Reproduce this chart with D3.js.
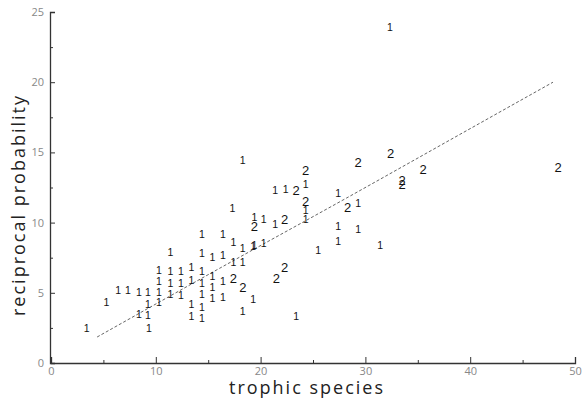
<!DOCTYPE html>
<html>
<head>
<meta charset="utf-8">
<script src="https://cdn.jsdelivr.net/npm/d3@7"></script>
<style>
  body { margin: 0; background: #fff; }
  svg { display: block; }
</style>
</head>
<body>
<div id="chart"></div>
<script>
// values: [trophic species, reciprocal probability]
const pointsOne = [
    [32.35, 23.9], [18.3, 14.4], [17.3, 11.0], [21.4, 12.3], [22.4, 12.4],
    [24.3, 12.7], [24.3, 10.9], [27.4, 12.1], [29.3, 11.4], [19.4, 10.4], [20.3, 10.2],
    [21.4, 9.9], [24.3, 10.2], [27.4, 9.7], [29.3, 9.5], [27.4, 8.7], [31.4, 8.4],
    [25.5, 8.0], [19.4, 8.4], [20.3, 8.5], [14.4, 9.2], [16.4, 9.2],
    [17.4, 8.6], [18.3, 8.2], [19.3, 8.3], [11.4, 7.9], [14.4, 7.8],
    [15.4, 7.5], [16.4, 7.7], [17.4, 7.2], [18.3, 7.2],
    [10.3, 6.6], [10.3, 5.8], [10.3, 5.0], [10.3, 4.3],
    [11.4, 6.5], [11.4, 5.7], [11.4, 4.9],
    [12.4, 6.5], [12.4, 5.7], [12.4, 4.8],
    [13.4, 6.8], [13.4, 5.9], [13.4, 4.2], [13.4, 3.3],
    [14.4, 6.5], [14.4, 5.7], [14.4, 4.9], [14.4, 4.0],
    [15.4, 6.2], [15.4, 5.4], [15.4, 4.6],
    [16.4, 5.8], [16.4, 4.7],
    [19.3, 4.5], [18.3, 3.7], [5.3, 4.3], [6.4, 5.2], [7.35, 5.2], [8.4, 5.0],
    [9.26, 5.0], [9.26, 4.2], [9.26, 3.4],
    [8.4, 3.5], [3.4, 2.5], [9.35, 2.5], [14.4, 3.2], [23.4, 3.3]
];

const pointsTwo = [
    [24.3, 13.7], [29.3, 14.3], [32.4, 14.9], [35.5, 13.8], [33.5, 13.0], [33.5, 12.7],
    [48.4, 13.9], [23.4, 12.3], [24.3, 11.5], [28.3, 11.1], [19.4, 9.7], [22.3, 10.2],
    [17.4, 6.0], [18.3, 5.4], [22.3, 6.8], [21.5, 6.0]
];

// fitted curve
const fitLine = [[4.4, 1.85], [16.1, 6.75], [28.2, 11.75], [39.3, 16.4], [47.9, 20.0]];

const xTicks = [0, 10, 20, 30, 40, 50];
const yTicks = [0, 5, 10, 15, 20, 25];

const width = 583, height = 403;

const svg = d3.select("#chart").append("svg")
    .attr("width", width)
    .attr("height", height);

const x = d3.scaleLinear().domain([0, 50]).range([51, 575]);
const y = d3.scaleLinear().domain([0, 25]).range([363, 12]);

const axisColor = "#333";
const labelFont = "'Open Sans', 'DejaVu Sans', sans-serif";
const markFont = "'Liberation Sans', Arial, sans-serif";

// x axis, ticks point inward
const xAxis = svg.append("g")
    .attr("transform", `translate(0, ${y(0)})`)
    .call(d3.axisBottom(x).tickValues(xTicks).tickSize(-6).tickPadding(4).tickFormat(d3.format("d")));
xAxis.append("g")
    .call(d3.axisBottom(x).tickValues([5, 15, 25, 35, 45]).tickSize(-3).tickFormat(""))
    .select(".domain").remove();

// y axis
const yAxis = svg.append("g")
    .attr("transform", `translate(${x(0) - 1}, 0)`)
    .call(d3.axisLeft(y).tickValues(yTicks).tickSize(-5).tickPadding(6).tickFormat(d3.format("d")));
yAxis.append("g")
    .call(d3.axisLeft(y).tickValues([2.5, 7.5, 12.5, 17.5, 22.5]).tickSize(-3).tickFormat(""))
    .select(".domain").remove();

svg.selectAll(".domain").attr("stroke", axisColor).attr("stroke-width", 1.3);
svg.selectAll(".tick line").attr("stroke", axisColor);
svg.selectAll(".tick text")
    .attr("fill", "#888")
    .attr("font-family", labelFont)
    .attr("font-size", "11px");

// fitted line
const line = d3.line().x(d => x(d[0])).y(d => y(d[1])).curve(d3.curveMonotoneX);
svg.append("path")
    .datum(fitLine)
    .attr("fill", "none")
    .attr("stroke", "#555")
    .attr("stroke-width", 0.9)
    .attr("stroke-dasharray", "3,2")
    .attr("d", line);

// point markers drawn as the digits 1 and 2
svg.append("g").selectAll("text")
    .data(pointsOne)
    .join("text")
    .attr("x", d => x(d[0]))
    .attr("y", d => y(d[1]))
    .attr("dy", "0.35em")
    .attr("text-anchor", "middle")
    .attr("font-family", markFont)
    .attr("font-size", "10.5px")
    .attr("fill", "#111")
    .text("1");

svg.append("g").selectAll("text")
    .data(pointsTwo)
    .join("text")
    .attr("x", d => x(d[0]))
    .attr("y", d => y(d[1]))
    .attr("dy", "0.35em")
    .attr("text-anchor", "middle")
    .attr("font-family", markFont)
    .attr("font-size", "13px")
    .attr("fill", "#111")
    .text("2");

// axis titles
svg.append("text")
    .attr("x", 307)
    .attr("y", 394)
    .attr("text-anchor", "middle")
    .attr("font-family", labelFont)
    .attr("font-size", "18px")
    .attr("letter-spacing", "2px")
    .attr("fill", "#222")
    .text("trophic species");

svg.append("text")
    .attr("transform", `translate(25, 205) rotate(-90)`)
    .attr("text-anchor", "middle")
    .attr("font-family", labelFont)
    .attr("font-size", "18px")
    .attr("letter-spacing", "2px")
    .attr("fill", "#222")
    .text("reciprocal probability");
</script>
</body>
</html>
